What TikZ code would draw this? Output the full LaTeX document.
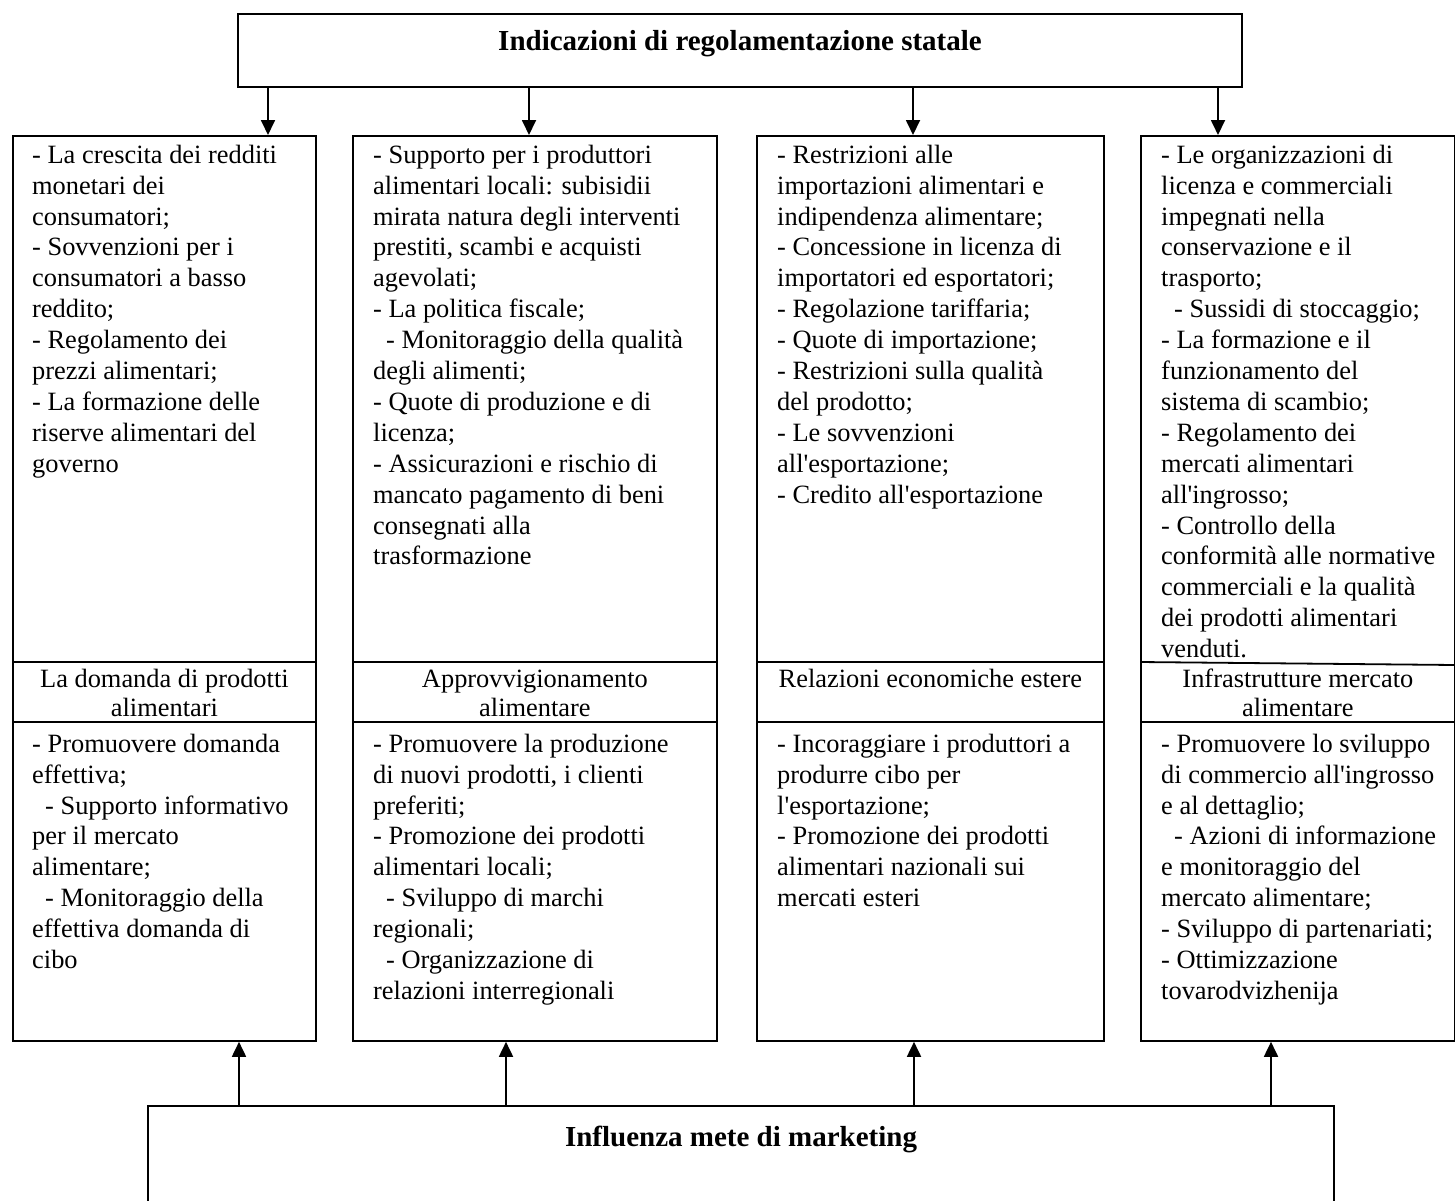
\documentclass[tikz,border=0pt]{standalone}
\usepackage{fontspec}
\setmainfont{Liberation Serif}[Ligatures=TeXOff]
\usepackage{tikz}
\usetikzlibrary{arrows.meta}

\newcommand{\ind}{\hspace*{13pt}}
\newcommand{\txtfont}{\fontsize{26.4}{30.9}\selectfont}
\newcommand{\midfont}{\fontsize{26.4}{28.5}\selectfont}
\newcommand{\headfont}{\fontsize{29}{33}\selectfont\bfseries}

\begin{document}
\begin{tikzpicture}[x=1pt, y=-1pt,
  frame/.style={draw, line width=1.8pt, inner sep=0pt},
  items/.style={anchor=north west, inner sep=0pt, align=left, font=\txtfont},
  heading/.style={anchor=north, inner sep=0pt, align=center, font=\midfont},
  divider/.style={line width=1.8pt},
  arr/.style={line width=1.8pt, -{Triangle[width=14pt,length=15pt]}}]

\clip (0,0) rectangle (1455,1200);

% the two outer boxes
\node[frame, minimum width=1004pt, minimum height=73pt, font=\headfont,
      text height=16pt, text depth=16pt] (state) at (740,50.5)
      {Indicazioni di regolamentazione statale};
\node[frame, anchor=north, minimum width=1186pt, inner ysep=22pt, font=\headfont,
      text height=19pt, text depth=102pt] (market) at (741,1105)
      {Influenza mete di marketing};

% four columns
\node[frame, anchor=north west, minimum width=303pt, minimum height=905pt] (col1) at (12,135) {};
\node[frame, anchor=north west, minimum width=364pt, minimum height=905pt] (col2) at (352,135) {};
\node[frame, anchor=north west, minimum width=347pt, minimum height=905pt] (col3) at (756,135) {};
\node[frame, anchor=north west, minimum width=314pt, minimum height=905pt] (col4) at (1140,135) {};

\coordinate (up) at (0,662);
\coordinate (lo) at (0,722);
\foreach \c in {1,2,3}
 {
 \draw[divider] (col\c.west |- up) -- (col\c.east |- up);
 }
\draw[divider] (col4.west |- up) -- ([yshift=-3pt]col4.east |- up);
\foreach \c in {1,...,4}
 {
 \draw[divider] (col\c.west |- lo) -- (col\c.east |- lo);
 }

% upper texts
\node[items, xshift=20pt, yshift=-6.4pt] (needup) at (col1.north west)
{\strut - La crescita dei redditi\\
monetari dei\\
consumatori;\\
- Sovvenzioni per i\\
consumatori a basso\\
reddito;\\
- Regolamento dei\\
prezzi alimentari;\\
- La formazione delle\\
riserve alimentari del\\
governo};
\node[items, xshift=21pt, yshift=-6.4pt] (supplyup) at (col2.north west)
{\strut - Supporto per i produttori\\
alimentari locali: subisidii\\
mirata natura degli interventi\\
prestiti, scambi e acquisti\\
agevolati;\\
- La politica fiscale;\\
\ind- Monitoraggio della qualità\\
degli alimenti;\\
- Quote di produzione e di\\
licenza;\\
- Assicurazioni e rischio di\\
mancato pagamento di beni\\
consegnati alla\\
trasformazione};
\node[items, xshift=21pt, yshift=-6.4pt] (foreignup) at (col3.north west)
{\strut - Restrizioni alle\\
importazioni alimentari e\\
indipendenza alimentare;\\
- Concessione in licenza di\\
importatori ed esportatori;\\
- Regolazione tariffaria;\\
- Quote di importazione;\\
- Restrizioni sulla qualità\\
del prodotto;\\
- Le sovvenzioni\\
all'esportazione;\\
- Credito all'esportazione};
\node[items, xshift=21pt, yshift=-6.4pt] (infraup) at (col4.north west)
{\strut - Le organizzazioni di\\
licenza e commerciali\\
impegnati nella\\
conservazione e il\\
trasporto;\\
\ind- Sussidi di stoccaggio;\\
- La formazione e il\\
funzionamento del\\
sistema di scambio;\\
- Regolamento dei\\
mercati alimentari\\
all'ingrosso;\\
- Controllo della\\
conformità alle normative\\
commerciali e la qualità\\
dei prodotti alimentari\\
venduti.};

% headings
\node[heading, yshift=-5.4pt] (needhead) at (col1.north |- up) {\strut La domanda di prodotti\\ alimentari};
\node[heading, yshift=-5.4pt] (supplyhead) at (col2.north |- up) {\strut Approvvigionamento\\ alimentare};
\node[heading, yshift=-5.4pt] (foreignhead) at (col3.north |- up) {\strut Relazioni economiche estere};
\node[heading, yshift=-5.4pt] (infrahead) at (col4.north |- up) {\strut Infrastrutture mercato\\ alimentare};

% lower texts
\node[items, xshift=20pt, yshift=-8.4pt] (needlow) at (col1.west |- lo)
{\strut - Promuovere domanda\\
effettiva;\\
\ind- Supporto informativo\\
per il mercato\\
alimentare;\\
\ind- Monitoraggio della\\
effettiva domanda di\\
cibo};
\node[items, xshift=21pt, yshift=-8.4pt] (supplylow) at (col2.west |- lo)
{\strut - Promuovere la produzione\\
di nuovi prodotti, i clienti\\
preferiti;\\
- Promozione dei prodotti\\
alimentari locali;\\
\ind- Sviluppo di marchi\\
regionali;\\
\ind- Organizzazione di\\
relazioni interregionali};
\node[items, xshift=21pt, yshift=-8.4pt] (foreignlow) at (col3.west |- lo)
{\strut - Incoraggiare i produttori a\\
produrre cibo per\\
l'esportazione;\\
- Promozione dei prodotti\\
alimentari nazionali sui\\
mercati esteri};
\node[items, xshift=21pt, yshift=-8.4pt] (infralow) at (col4.west |- lo)
{\strut - Promuovere lo sviluppo\\
di commercio all'ingrosso\\
e al dettaglio;\\
\ind- Azioni di informazione\\
e monitoraggio del\\
mercato alimentare;\\
- Sviluppo di partenariati;\\
- Ottimizzazione\\
tovarodvizhenija};

% arrows
\foreach \x/\c in {268/1, 529/2, 913/3, 1218/4}
 {
 \coordinate (t) at (\x,0);
 \draw[arr] (state.south -| t) -- (col\c.north -| t);
 }
\foreach \x/\c in {239/1, 506/2, 914/3, 1271/4}
 {
 \coordinate (b) at (\x,0);
 \draw[arr] (market.north -| b) -- (col\c.south -| b);
 }

\end{tikzpicture}
\end{document}
